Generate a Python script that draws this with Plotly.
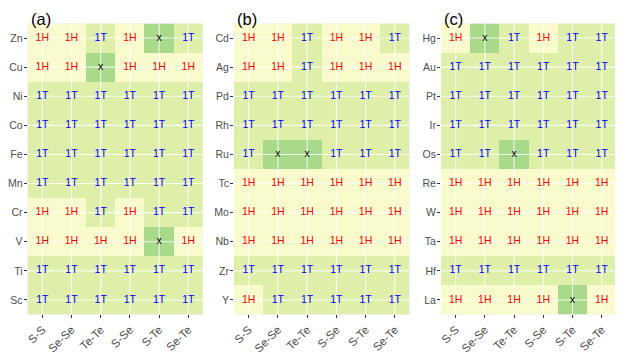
"""
Stable phase map (1H / 1T) for transition-metal chalcogenide pairs, three rows of the periodic table.
Writes out.html
"""

import plotly.graph_objects as go

# ─────────────────────────────────────────────────────────────────────────────
# Data
# ─────────────────────────────────────────────────────────────────────────────

PAIRS = ["S-S", "Se-Se", "Te-Te", "S-Se", "S-Te", "Se-Te"]

METALS_A = ["Zn", "Cu", "Ni", "Co", "Fe", "Mn", "Cr", "V", "Ti", "Sc"]
METALS_B = ["Cd", "Ag", "Pd", "Rh", "Ru", "Tc", "Mo", "Nb", "Zr", "Y"]
METALS_C = ["Hg", "Au", "Pt", "Ir", "Os", "Re", "W", "Ta", "Hf", "La"]

# "x" = no stable phase
PHASE_A = [
    ["1H", "1H", "1T", "1H", "x",  "1T"],   # Zn
    ["1H", "1H", "x",  "1H", "1H", "1H"],   # Cu
    ["1T", "1T", "1T", "1T", "1T", "1T"],   # Ni
    ["1T", "1T", "1T", "1T", "1T", "1T"],   # Co
    ["1T", "1T", "1T", "1T", "1T", "1T"],   # Fe
    ["1T", "1T", "1T", "1T", "1T", "1T"],   # Mn
    ["1H", "1H", "1T", "1H", "1T", "1T"],   # Cr
    ["1H", "1H", "1H", "1H", "x",  "1H"],   # V
    ["1T", "1T", "1T", "1T", "1T", "1T"],   # Ti
    ["1T", "1T", "1T", "1T", "1T", "1T"],   # Sc
]
PHASE_B = [
    ["1H", "1H", "1T", "1H", "1H", "1T"],   # Cd
    ["1H", "1H", "1T", "1H", "1H", "1H"],   # Ag
    ["1T", "1T", "1T", "1T", "1T", "1T"],   # Pd
    ["1T", "1T", "1T", "1T", "1T", "1T"],   # Rh
    ["1T", "x",  "x",  "1T", "1T", "1T"],   # Ru
    ["1H", "1H", "1H", "1H", "1H", "1H"],   # Tc
    ["1H", "1H", "1H", "1H", "1H", "1H"],   # Mo
    ["1H", "1H", "1H", "1H", "1H", "1H"],   # Nb
    ["1T", "1T", "1T", "1T", "1T", "1T"],   # Zr
    ["1H", "1T", "1T", "1T", "1T", "1T"],   # Y
]
PHASE_C = [
    ["1H", "x",  "1T", "1H", "1T", "1T"],   # Hg
    ["1T", "1T", "1T", "1T", "1T", "1T"],   # Au
    ["1T", "1T", "1T", "1T", "1T", "1T"],   # Pt
    ["1T", "1T", "1T", "1T", "1T", "1T"],   # Ir
    ["1T", "1T", "x",  "1T", "1T", "1T"],   # Os
    ["1H", "1H", "1H", "1H", "1H", "1H"],   # Re
    ["1H", "1H", "1H", "1H", "1H", "1H"],   # W
    ["1H", "1H", "1H", "1H", "1H", "1H"],   # Ta
    ["1T", "1T", "1T", "1T", "1T", "1T"],   # Hf
    ["1H", "1H", "1H", "1H", "x",  "1H"],   # La
]

PANEL_TAGS = ["(a)", "(b)", "(c)"]

# ─────────────────────────────────────────────────────────────────────────────
# Styling
# ─────────────────────────────────────────────────────────────────────────────

PHASE_CODE = {"1H": 0, "1T": 1, "x": 2}
TILE_SCALE = [[0.0, "#fafbcd"], [0.5, "#deefaa"], [1.0, "#a9da8c"]]
TEXT_COLOR = {"1H": "#ff0000", "1T": "#0000ff", "x": "#000000"}

FONT = "Liberation Sans, Arial, sans-serif"
GREY = "#4d4d4d"

# the page body keeps its default 8px margin, so the figure is 8px smaller
# than the window and every domain is measured from that offset
FIG_W, FIG_H = 615, 350
X_DOMAINS = [[0.0320, 0.3169], [0.3675, 0.6528], [0.7041, 0.9891]]
Y_DOMAIN = [0.1243, 0.9557]

fig = go.Figure()

panels = [(METALS_A, PHASE_A), (METALS_B, PHASE_B), (METALS_C, PHASE_C)]
n_col = len(PAIRS)

for k, (metals, phases) in enumerate(panels):
    xa = "x" if k == 0 else f"x{k + 1}"
    ya = "y" if k == 0 else f"y{k + 1}"
    n_row = len(metals)

    # tiles
    fig.add_trace(go.Heatmap(
        x=list(range(n_col)), y=list(range(n_row)),
        z=[[PHASE_CODE[p] for p in row] for row in phases],
        zmin=0, zmax=2, colorscale=TILE_SCALE, showscale=False,
        hoverinfo="skip", xaxis=xa, yaxis=ya,
    ))

    # white grid lines drawn over the tiles (ggplot look)
    gx, gy = [], []
    for i in range(n_col):
        gx += [i, i, None]
        gy += [-0.5, n_row - 0.5, None]
    for j in range(n_row):
        gx += [-0.5, n_col - 0.5, None]
        gy += [j, j, None]
    fig.add_trace(go.Scatter(
        x=gx, y=gy, mode="lines",
        line=dict(color="rgba(255,255,255,0.8)", width=1.1),
        hoverinfo="skip", showlegend=False, xaxis=xa, yaxis=ya,
    ))

    # phase labels
    tx, ty, tt, tc = [], [], [], []
    for j, row in enumerate(phases):
        for i, p in enumerate(row):
            tx.append(i)
            ty.append(j)
            tt.append(p)
            tc.append(TEXT_COLOR[p])
    fig.add_trace(go.Scatter(
        x=tx, y=ty, text=tt, mode="text",
        textfont=dict(family=FONT, size=10.5, color=tc),
        hoverinfo="skip", showlegend=False, xaxis=xa, yaxis=ya,
    ))

    axis_common = dict(
        showgrid=False, zeroline=False, showline=False, automargin=False,
        ticks="outside", ticklen=3, tickwidth=1, tickcolor="#333333",
        fixedrange=True,
    )
    fig.update_layout(**{
        ("xaxis" if k == 0 else f"xaxis{k + 1}"): dict(
            axis_common, domain=X_DOMAINS[k], anchor=ya,
            range=[-0.5, n_col - 0.5],
            tickmode="array", tickvals=list(range(n_col)), ticktext=PAIRS,
            tickangle=-45,
            tickfont=dict(family=FONT, size=11.5, color=GREY),
        ),
        ("yaxis" if k == 0 else f"yaxis{k + 1}"): dict(
            axis_common, domain=Y_DOMAIN, anchor=xa,
            range=[n_row - 0.5, -0.5],
            tickmode="array", tickvals=list(range(n_row)), ticktext=metals,
            tickfont=dict(family=FONT, size=10.5, color=GREY),
            ticklabelstandoff=-1,
        ),
    })

    fig.add_annotation(
        x=X_DOMAINS[k][0], y=1.0, xref="paper", yref="paper",
        xanchor="left", yanchor="top", xshift=1,
        text=PANEL_TAGS[k], showarrow=False,
        font=dict(family=FONT, size=16.5, color="#000000"),
    )

fig.update_layout(
    width=FIG_W, height=FIG_H,
    margin=dict(l=0, r=0, t=0, b=0),
    paper_bgcolor="white", plot_bgcolor="#ebebeb",
    showlegend=False,
)

fig.write_html("out.html")
